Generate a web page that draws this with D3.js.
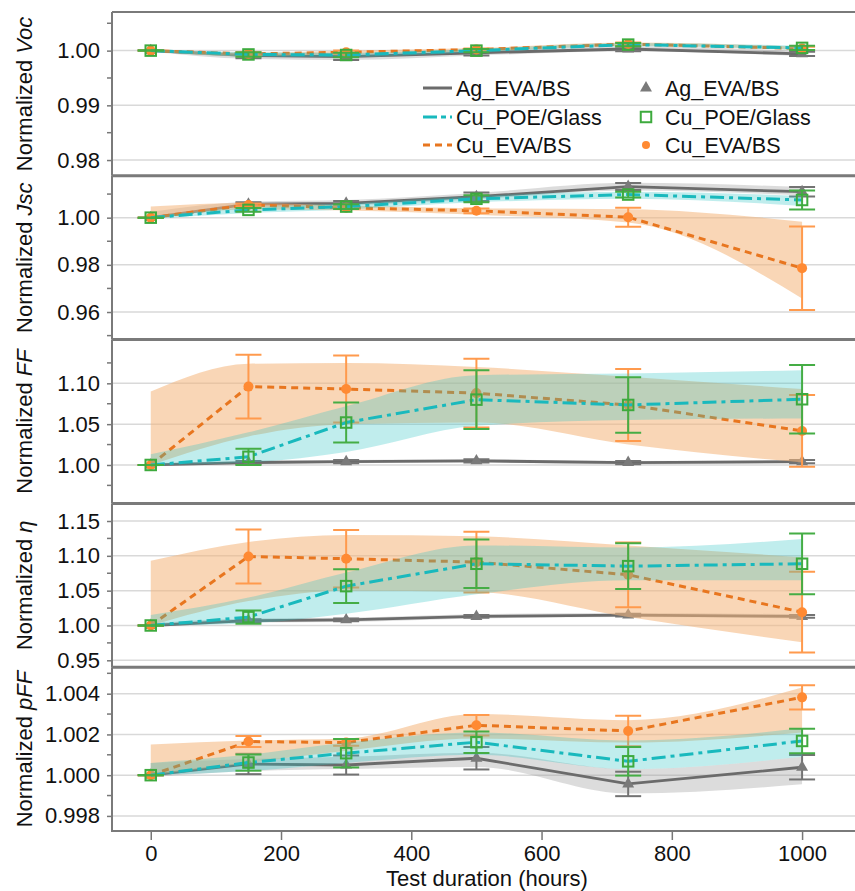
<!DOCTYPE html>
<html>
<head>
<meta charset="utf-8">
<script src="https://cdn.jsdelivr.net/npm/d3@7"></script>
<style>
  body { margin: 0; background: #fff; }
  svg { display: block; font-family: "Liberation Sans", Arial, sans-serif; }
</style>
</head>
<body>
<svg id="chart" width="855" height="891"></svg>
<script>
// test points (hours)
const hours = [0, 150, 300, 500, 733, 1000];
const seriesNames = ["Ag_EVA/BS", "Cu_POE/Glass", "Cu_EVA/BS"];
const xTicks = [0, 200, 400, 600, 800, 1000];

// each metric: rows are Ag_EVA/BS, Cu_POE/Glass, Cu_EVA/BS
const vocMean = [
  [1.0000, 0.9991, 0.9989, 0.9996, 1.0003, 0.9994],
  [1.0000, 0.9993, 0.9992, 1.0000, 1.0011, 1.0005],
  [1.0000, 0.9994, 0.9997, 1.0002, 1.0012, 1.0004]
];
const vocErr = [
  [0, 0.0005, 0.0006, 0.0005, 0.0004, 0.0004],
  [0, 0.0004, 0.0004, 0.0003, 0.0003, 0.0004],
  [0, 0.0003, 0.0003, 0.0002, 0.0003, 0.0003]
];
const vocLo = [
  [0.9998, 0.9985, 0.9983, 0.9991, 0.9999, 0.9990],
  [0.9999, 0.9989, 0.9988, 0.9997, 1.0008, 1.0001],
  [0.9999, 0.9990, 0.9994, 0.9999, 1.0009, 1.0001]
];
const vocHi = [
  [1.0003, 0.9996, 0.9995, 1.0001, 1.0008, 0.9999],
  [1.0002, 0.9997, 0.9996, 1.0003, 1.0014, 1.0009],
  [1.0002, 0.9996, 1.0000, 1.0005, 1.0015, 1.0007]
];

const jscMean = [
  [1.0000, 1.0057, 1.0061, 1.0089, 1.0132, 1.0110],
  [1.0000, 1.0033, 1.0047, 1.0080, 1.0098, 1.0075],
  [1.0000, 1.0054, 1.0042, 1.0029, 1.0002, 0.9786]
];
const jscErr = [
  [0, 0.0008, 0.0010, 0.0018, 0.0015, 0.0020],
  [0, 0.0008, 0.0010, 0.0015, 0.0012, 0.0040],
  [0, 0.0006, 0.0005, 0.0010, 0.0040, 0.0177]
];
const jscLo = [
  [0.9995, 1.0045, 1.0052, 1.0078, 1.0115, 1.0095],
  [0.9995, 1.0020, 1.0035, 1.0065, 1.0080, 1.0050],
  [0.9995, 1.0035, 1.0030, 1.0012, 0.9980, 0.9657]
];
const jscHi = [
  [1.0025, 1.0068, 1.0075, 1.0105, 1.0148, 1.0130],
  [1.0005, 1.0045, 1.0060, 1.0092, 1.0110, 1.0092],
  [1.0047, 1.0062, 1.0052, 1.0040, 1.0036, 0.9983]
];

const ffMean = [
  [1.000, 1.003, 1.004, 1.005, 1.003, 1.004],
  [1.000, 1.010, 1.052, 1.080, 1.0735, 1.0805],
  [1.000, 1.096, 1.093, 1.088, 1.0735, 1.0417]
];
const ffErr = [
  [0, 0.002, 0.002, 0.002, 0.002, 0.002],
  [0, 0.010, 0.0245, 0.036, 0.034, 0.042],
  [0, 0.039, 0.041, 0.042, 0.044, 0.044]
];
const ffLo = [
  [0.999, 1.001, 1.002, 1.003, 1.001, 1.002],
  [1.000, 1.003, 1.016, 1.048, 1.055, 1.057],
  [1.000, 1.035, 1.050, 1.052, 1.025, 1.003]
];
const ffHi = [
  [1.002, 1.005, 1.006, 1.007, 1.005, 1.006],
  [1.013, 1.040, 1.072, 1.110, 1.112, 1.116],
  [1.090, 1.124, 1.125, 1.120, 1.108, 1.093]
];

const etaMean = [
  [1.000, 1.007, 1.008, 1.013, 1.015, 1.013],
  [1.000, 1.012, 1.0565, 1.0886, 1.0852, 1.0886],
  [1.000, 1.0991, 1.0958, 1.091, 1.0728, 1.0191]
];
const etaErr = [
  [0, 0.002, 0.002, 0.002, 0.002, 0.002],
  [0, 0.0096, 0.0243, 0.0347, 0.033, 0.0436],
  [0, 0.0388, 0.0412, 0.0435, 0.0465, 0.058]
];
const etaLo = [
  [0.999, 1.004, 1.005, 1.010, 1.012, 1.010],
  [1.000, 1.003, 1.017, 1.045, 1.065, 1.065],
  [1.000, 1.035, 1.050, 1.048, 1.012, 0.976]
];
const etaHi = [
  [1.003, 1.010, 1.011, 1.016, 1.018, 1.016],
  [1.015, 1.040, 1.076, 1.115, 1.112, 1.124],
  [1.093, 1.120, 1.130, 1.128, 1.115, 1.098]
];

const pffMean = [
  [1.0000, 1.00055, 1.0005, 1.00083, 0.99957, 1.00039],
  [1.0000, 1.00062, 1.00108, 1.00162, 1.00068, 1.00168],
  [1.0000, 1.00165, 1.0016, 1.00245, 1.00217, 1.00382]
];
const pffErr = [
  [0, 0.0005, 0.00047, 0.00055, 0.0006, 0.0006],
  [0, 0.0004, 0.0007, 0.00053, 0.0007, 0.0006],
  [0, 0.00027, 0.00016, 0.0005, 0.00075, 0.0006]
];
const pffLo = [
  [0.9999, 1.0002, 1.0003, 1.0004, 0.9991, 0.99955],
  [1.0000, 1.0002, 1.0006, 1.0010, 1.0003, 1.0009],
  [1.0000, 1.0006, 1.0012, 1.0018, 1.0016, 1.0021]
];
const pffHi = [
  [1.0006, 1.0008, 1.0009, 1.0011, 1.0003, 1.0009],
  [1.0006, 1.0010, 1.0016, 1.0021, 1.0017, 1.0023],
  [1.0015, 1.0017, 1.0018, 1.0030, 1.0027, 1.0043]
];

// tick values per panel
const vocTicks = [0.98, 0.99, 1.00], vocMinor = [0.985, 0.995, 1.005];
const jscTicks = [0.96, 0.98, 1.00], jscMinor = [0.95, 0.97, 0.99, 1.01];
const ffTicks = [1.00, 1.05, 1.10], ffMinor = [0.975, 1.025, 1.075, 1.125];
const etaTicks = [0.95, 1.00, 1.05, 1.10, 1.15], etaMinor = [0.975, 1.025, 1.075, 1.125];
const pffTicks = [0.998, 1.000, 1.002, 1.004], pffMinor = [0.997, 0.999, 1.001, 1.003, 1.005];

const panels = [
  { label: "Voc", mean: vocMean, err: vocErr, lo: vocLo, hi: vocHi, domain: [0.97712, 1.00706], ticks: vocTicks, minor: vocMinor, fmt: ".2f" },
  { label: "Jsc", mean: jscMean, err: jscErr, lo: jscLo, hi: jscHi, domain: [0.94831, 1.01775], ticks: jscTicks, minor: jscMinor, fmt: ".2f" },
  { label: "FF", mean: ffMean, err: ffErr, lo: ffLo, hi: ffHi, domain: [0.95294, 1.15355], ticks: ffTicks, minor: ffMinor, fmt: ".2f" },
  { label: "η", mean: etaMean, err: etaErr, lo: etaLo, hi: etaHi, domain: [0.94009, 1.17529], ticks: etaTicks, minor: etaMinor, fmt: ".2f" },
  { label: "pFF", mean: pffMean, err: pffErr, lo: pffLo, hi: pffHi, domain: [0.99726, 1.0053], ticks: pffTicks, minor: pffMinor, fmt: ".3f" }
];

const styles = [
  { line: "#6b6b6b", dash: null, band: "#9a9a9a", bandOp: 0.35, err: "#737373", marker: "triangle", mark: "#7a7a7a" },
  { line: "#19b9bd", dash: "14,5,4,5", band: "#2ec4c4", bandOp: 0.3, err: "#45ad45", marker: "square", mark: "#3daa3d" },
  { line: "#e8761f", dash: "7,5", band: "#f4b47a", bandOp: 0.55, err: "#ff9a4d", marker: "circle", mark: "#ff8a33" }
];
const drawOrder = [0, 2, 1];

const W = 855, plotLeft = 112, plotRight = 862, plotTop = 12, plotBottom = 831;
const panelH = (plotBottom - plotTop) / panels.length;
const fontSize = 22;

const svg = d3.select("#chart");
const x = d3.scaleLinear().domain([-59.5, 1092]).range([plotLeft, plotRight]);

const drawMarker = (g, type, cx, cy, color, s) => {
  if (type === "triangle") {
    g.append("path").attr("d", d3.symbol(d3.symbolTriangle, 62 * s * s)())
      .attr("transform", `translate(${cx},${cy})`).attr("fill", color);
  } else if (type === "square") {
    const a = 10.5 * s;
    g.append("rect").attr("x", cx - a / 2).attr("y", cy - a / 2).attr("width", a).attr("height", a)
      .attr("fill", "none").attr("stroke", color).attr("stroke-width", 2);
  } else {
    g.append("circle").attr("cx", cx).attr("cy", cy).attr("r", 5 * s).attr("fill", color);
  }
};

panels.forEach((p, pi) => {
  const y0 = plotTop + pi * panelH, y1 = y0 + panelH;
  const y = d3.scaleLinear().domain(p.domain).range([y1, y0]);
  const g = svg.append("g");

  g.append("clipPath").attr("id", "clip" + pi)
    .append("rect").attr("x", plotLeft).attr("y", y0).attr("width", W - plotLeft).attr("height", panelH);

  // gridlines
  g.selectAll(".grid").data(p.ticks).join("line")
    .attr("x1", plotLeft).attr("x2", W).attr("y1", d => y(d)).attr("y2", d => y(d))
    .attr("stroke", "#d9d9d9").attr("stroke-width", 1.5);

  // y axis
  const ax = g.append("g").attr("transform", `translate(${plotLeft},0)`)
    .call(d3.axisLeft(y).tickValues(p.ticks).tickSize(5).tickPadding(7).tickFormat(d3.format(p.fmt)));
  ax.select(".domain").remove();
  ax.selectAll("line").attr("stroke", "#777").attr("stroke-width", 1.5);
  ax.selectAll("text").attr("font-size", fontSize).attr("fill", "#111")
    .attr("font-family", "Liberation Sans, Arial, sans-serif");
  g.selectAll(".minor").data(p.minor.filter(d => y(d) > y0 + 1 && y(d) < y1 - 1)).join("line")
    .attr("x1", plotLeft - 5).attr("x2", plotLeft).attr("y1", d => y(d)).attr("y2", d => y(d))
    .attr("stroke", "#777").attr("stroke-width", 1.5);

  // y title
  const t = g.append("text")
    .attr("transform", `translate(32,${(y0 + y1) / 2}) rotate(-90)`)
    .attr("text-anchor", "middle").attr("font-size", fontSize).attr("fill", "#111");
  t.append("tspan").text("Normalized ");
  t.append("tspan").attr("font-style", "italic").text(p.label);

  const plot = g.append("g").attr("clip-path", `url(#clip${pi})`);
  const area = d3.area().x((d, i) => x(hours[i])).curve(d3.curveMonotoneX);
  const line = d3.line().x((d, i) => x(hours[i])).y(d => y(d));

  drawOrder.forEach(si => {
    const st = styles[si];
    const sg = plot.append("g");
    const bandData = p.lo[si].map((lo, i) => [lo, p.hi[si][i]]);
    sg.append("path").datum(bandData)
      .attr("d", area.y0(d => y(d[0])).y1(d => y(d[1])))
      .attr("fill", st.band).attr("fill-opacity", st.bandOp);
    sg.append("path").datum(p.mean[si])
      .attr("d", line).attr("fill", "none").attr("stroke", st.line)
      .attr("stroke-width", si === 0 ? 2.8 : 3).attr("stroke-dasharray", st.dash);
    p.mean[si].forEach((m, i) => {
      const cx = x(hours[i]), e = p.err[si][i];
      sg.append("line").attr("x1", cx).attr("x2", cx).attr("y1", y(m - e)).attr("y2", y(m + e))
        .attr("stroke", st.err).attr("stroke-width", 2);
      [m - e, m + e].forEach(v => {
        sg.append("line").attr("x1", cx - 13).attr("x2", cx + 13).attr("y1", y(v)).attr("y2", y(v))
          .attr("stroke", st.err).attr("stroke-width", 2);
      });
      drawMarker(sg, st.marker, cx, y(m), st.mark, 1);
    });
  });

  // panel frame
  g.append("line").attr("x1", plotLeft).attr("x2", plotLeft).attr("y1", y0).attr("y2", y1)
    .attr("stroke", "#7a7a7a").attr("stroke-width", 2);
  g.append("line").attr("x1", plotLeft).attr("x2", W).attr("y1", y0).attr("y2", y0)
    .attr("stroke", "#7a7a7a").attr("stroke-width", pi === 0 ? 2 : 3);
});

// x axis
const xa = svg.append("g").attr("transform", `translate(0,${plotBottom})`)
  .call(d3.axisBottom(x).tickValues(xTicks).tickSize(9).tickPadding(5).tickFormat(d3.format("d")));
xa.select(".domain").remove();
xa.selectAll("line").attr("stroke", "#777").attr("stroke-width", 1.5);
xa.selectAll("text").attr("font-size", fontSize).attr("fill", "#111")
  .attr("font-family", "Liberation Sans, Arial, sans-serif");
svg.append("line").attr("x1", plotLeft - 1).attr("x2", W).attr("y1", plotBottom).attr("y2", plotBottom)
  .attr("stroke", "#7a7a7a").attr("stroke-width", 2);
svg.append("text").attr("x", 487).attr("y", 886).attr("text-anchor", "middle")
  .attr("font-size", fontSize).attr("fill", "#111").text("Test duration (hours)");

// legend
const legend = svg.append("g");
const rowY = [88, 117, 145];
seriesNames.forEach((name, i) => {
  const st = styles[i];
  legend.append("line").attr("x1", 423).attr("x2", 452).attr("y1", rowY[i]).attr("y2", rowY[i])
    .attr("stroke", st.line).attr("stroke-width", 3)
    .attr("stroke-dasharray", i === 1 ? "14,4,5,4" : st.dash);
  legend.append("text").attr("x", 456).attr("y", rowY[i] + 7.5).attr("font-size", 21.5)
    .attr("fill", "#111").text(name);
  drawMarker(legend, st.marker, 646, rowY[i], st.mark, i === 2 ? 0.8 : 1);
  legend.append("text").attr("x", 665).attr("y", rowY[i] + 7.5).attr("font-size", 21.5)
    .attr("fill", "#111").text(name);
});
</script>
</body>
</html>
